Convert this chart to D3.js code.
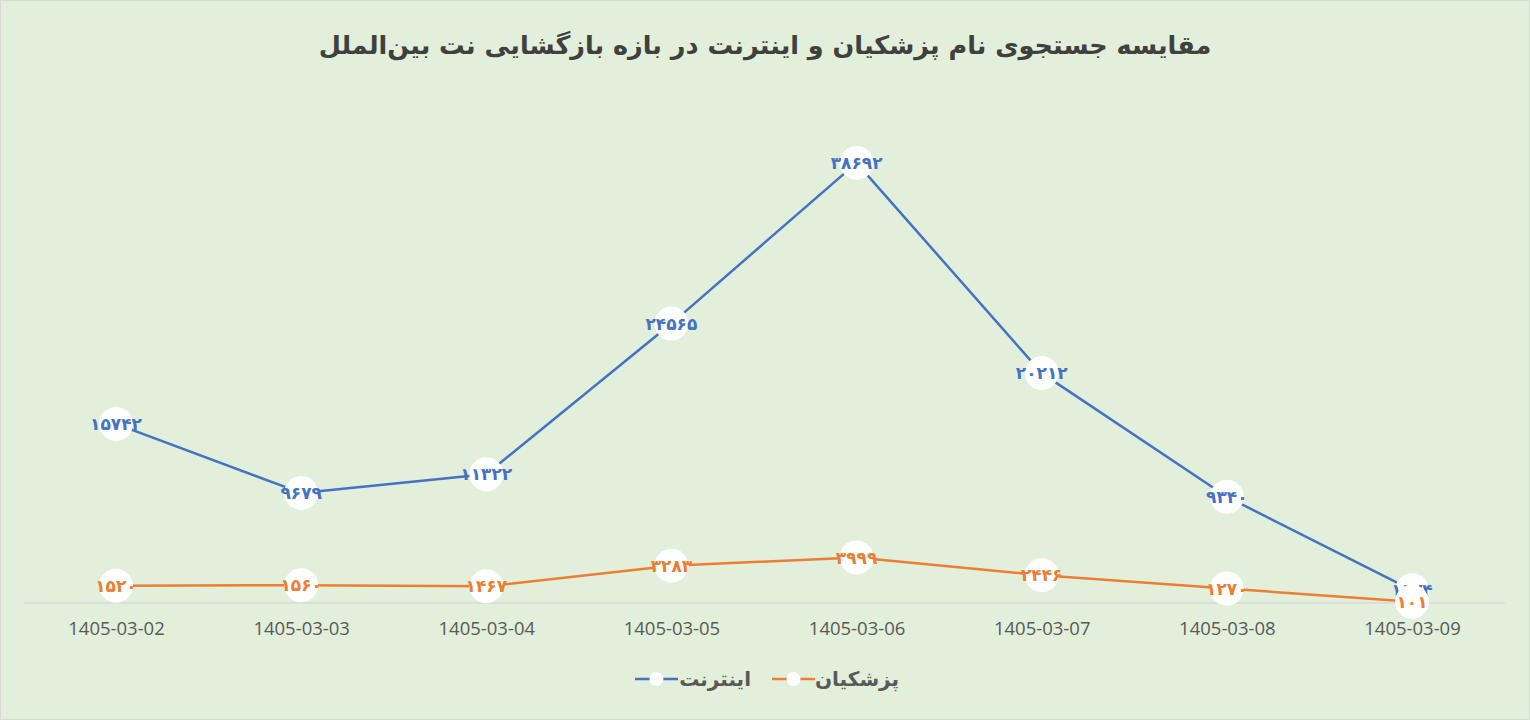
<!DOCTYPE html>
<html>
<head>
<meta charset="utf-8">
<script src="https://cdn.jsdelivr.net/npm/d3@7"></script>
<style>
  body { margin: 0; background: #fff; }
  svg { display: block; }
</style>
</head>
<body>
<div id="chart"></div>
<script>
const dates = ['1405-03-02', '1405-03-03', '1405-03-04', '1405-03-05', '1405-03-06', '1405-03-07', '1405-03-08', '1405-03-09']
const internet = [15742, 9679, 11322, 24565, 38692, 20212, 9340, 1124]
const doctors = [1520, 1560, 1467, 3283, 3999, 2446, 1270, 101]
const seriesNames = ['اینترنت', 'پزشکیان']
const title = 'مقایسه جستجوی نام پزشکیان و اینترنت در بازه بازگشایی نت بین‌الملل'

const width = 1530
const height = 720
const colors = ['#4472C4', '#ED7D31']
const faFont = '"DejaVu Sans", sans-serif'

// persian digits for data labels
const faDigits = n => String(n).replace(/\d/g, d => '۰۱۲۳۴۵۶۷۸۹'[d])

const svg = d3.select('#chart')
  .append('svg')
  .attr('width', width)
  .attr('height', height)

svg.append('rect')
  .attr('x', 0.5).attr('y', 0.5)
  .attr('width', width - 1).attr('height', height - 1)
  .attr('fill', '#E2EFDA')
  .attr('stroke', '#D9D9D9')

svg.append('text')
  .attr('x', 765)
  .attr('y', 54)
  .attr('text-anchor', 'middle')
  .attr('font-family', faFont)
  .attr('font-weight', 'bold')
  .attr('font-size', 25.5)
  .attr('fill', '#404040')
  .text(title)

const x = d3.scalePoint()
  .domain(dates)
  .range([116, 1412])

const y = d3.scaleLinear()
  .domain([0, 40000])
  .range([603, 148])

// baseline
svg.append('line')
  .attr('x1', 24).attr('x2', 1505)
  .attr('y1', y(0)).attr('y2', y(0))
  .attr('stroke', '#D9D9D9')
  .attr('stroke-width', 1.5)

const xAxis = svg.append('g')
  .attr('transform', `translate(0,${y(0)})`)
  .call(d3.axisBottom(x).tickSize(0).tickPadding(19))
xAxis.select('.domain').remove()
xAxis.selectAll('text')
  .attr('font-family', '"Open Sans", "Liberation Sans", sans-serif')
  .attr('font-size', 18.5)
  .attr('fill', '#595959')

const line = d3.line()
  .x((d, i) => x(dates[i]))
  .y(d => y(d))

const allSeries = [internet, doctors]

allSeries.forEach((vals, k) => {
  const g = svg.append('g')
  g.append('path')
    .datum(vals)
    .attr('d', line)
    .attr('fill', 'none')
    .attr('stroke', colors[k])
    .attr('stroke-width', 2.5)
    .attr('stroke-linejoin', 'round')

  g.selectAll('circle')
    .data(vals)
    .enter()
    .append('circle')
    .attr('cx', (d, i) => x(dates[i]))
    .attr('cy', d => y(d))
    .attr('r', 17)
    .attr('fill', '#fff')

  g.selectAll('text')
    .data(vals)
    .enter()
    .append('text')
    .attr('x', (d, i) => x(dates[i]))
    .attr('y', d => y(d) + 6)
    .attr('text-anchor', 'middle')
    .attr('font-family', faFont)
    .attr('font-weight', 'bold')
    .attr('font-size', 17)
    .attr('fill', colors[k])
    .text(d => faDigits(d))
})

// legend
const legend = svg.append('g')
const legendItems = [
  { name: seriesNames[0], color: colors[0], x0: 635, tx: 751 },
  { name: seriesNames[1], color: colors[1], x0: 772, tx: 899 }
]
legendItems.forEach(d => {
  legend.append('line')
    .attr('x1', d.x0).attr('x2', d.x0 + 43)
    .attr('y1', 679).attr('y2', 679)
    .attr('stroke', d.color)
    .attr('stroke-width', 2.5)
  legend.append('circle')
    .attr('cx', d.x0 + 21.5).attr('cy', 679)
    .attr('r', 7)
    .attr('fill', '#fff')
  legend.append('text')
    .attr('x', d.tx)
    .attr('y', 686)
    .attr('text-anchor', 'end')
    .attr('font-family', faFont)
    .attr('font-weight', 'bold')
    .attr('font-size', 20)
    .attr('fill', '#595959')
    .text(d.name)
})
</script>
</body>
</html>
